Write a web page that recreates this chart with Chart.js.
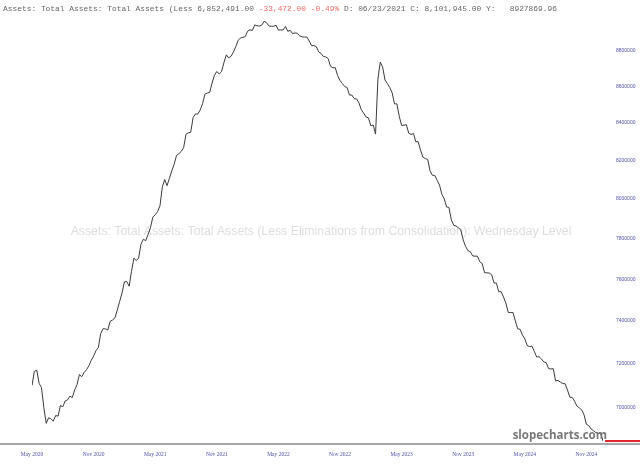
<!DOCTYPE html>
<html>
<head>
<meta charset="utf-8">
<style>
  html, body { margin: 0; padding: 0; background: #fff; }
</style>
<script src="https://cdn.jsdelivr.net/npm/chart.js@4.4.1/dist/chart.umd.min.js"></script>
</head>
<body>
<canvas id="assetsChart" width="640" height="465"></canvas>
<script>
// weekly Wednesday levels, in billions of dollars, starting 2020-05-27
const firstWednesday = "2020-05-27";
const assetsBn = [
  7100, 7165, 7170, 7110, 7090, 7000, 6930, 6955, 6950, 6940,
  6965, 6962, 7010, 7004, 7030, 7035, 7052, 7045, 7080, 7104,
  7150, 7140, 7160, 7172, 7190, 7215, 7235, 7260, 7275, 7340,
  7363, 7362, 7357, 7398, 7404, 7414, 7451, 7493, 7533, 7587,
  7589, 7566, 7638, 7703, 7691, 7704, 7772, 7797, 7790, 7821,
  7855, 7908, 7920, 7936, 7965, 8061, 8101, 8069, 8107, 8146,
  8181, 8227, 8236, 8248, 8268, 8339, 8347, 8350, 8429, 8448,
  8448, 8470, 8505, 8556, 8562, 8566, 8617, 8660, 8681, 8667,
  8680, 8730, 8774, 8757, 8766, 8789, 8820, 8856, 8869, 8873,
  8877, 8908, 8916, 8912, 8944, 8939, 8937, 8943, 8965, 8956,
  8938, 8936, 8936, 8942, 8914, 8915, 8915, 8935, 8907, 8913,
  8894, 8898, 8896, 8881, 8876, 8874, 8875, 8852, 8826, 8826,
  8820, 8791, 8782, 8764, 8763, 8753, 8710, 8702, 8702, 8658,
  8631, 8614, 8598, 8592, 8551, 8551, 8531, 8530, 8508, 8471,
  8452, 8432, 8427, 8384, 8389, 8340, 8639, 8733, 8705, 8634,
  8614, 8593, 8563, 8503, 8503, 8436, 8386, 8388, 8390, 8345,
  8338, 8343, 8299, 8299, 8254, 8218, 8210, 8206, 8146, 8123,
  8122, 8097, 8072, 8025, 8001, 7960, 7957, 7894, 7867, 7863,
  7854, 7843, 7793, 7761, 7740, 7735, 7714, 7713, 7713, 7685,
  7677, 7632, 7631, 7630, 7622, 7582, 7581, 7539, 7540, 7514,
  7485, 7440, 7439, 7440, 7400, 7362, 7360, 7333, 7315, 7284,
  7279, 7281, 7257, 7231, 7232, 7222, 7208, 7205, 7178, 7175,
  7177, 7121, 7123, 7116, 7109, 7108, 7080, 7047, 7046, 7029,
  7007, 6999, 6990, 6968, 6926, 6920, 6905, 6897, 6889, 6886,
  6886, 6852
];

const tickEvery = 26; // weeks between x labels
const xTickLabels = ["May 2020", "Nov 2020", "May 2021", "Nov 2021", "May 2022",
  "Nov 2022", "May 2023", "Nov 2023", "May 2024", "Nov 2024"];
const yTickValues = [7000000, 7200000, 7400000, 7600000, 7800000,
  8000000, 8200000, 8400000, 8600000, 8800000];

const seriesTitle = "Assets: Total Assets: Total Assets (Less Eliminations from Consolidation): Wednesday Level";
const headerLeft = "Assets: Total Assets: Total Assets (Less 6,852,491.00 ";
const headerChange = "-33,472.00 -0.49%";
const headerRight = " D: 06/23/2021 C: 8,101,945.00 Y:   8927869.96";

const weekDates = assetsBn.map((_, i) => {
  const d = new Date(firstWednesday + "T00:00:00Z");
  d.setUTCDate(d.getUTCDate() + i * 7);
  return d.toISOString().slice(0, 10);
});

const axisBlue = "#5050aa";

const decorations = {
  id: "decorations",
  beforeDatasetsDraw(chart) {
    const { ctx } = chart;
    ctx.save();
    ctx.font = '12.3px "Liberation Sans"';
    ctx.fillStyle = "#dedede";
    ctx.textAlign = "center";
    ctx.textBaseline = "middle";
    ctx.fillText(seriesTitle, 321, 232);
    ctx.restore();
  },
  afterDraw(chart) {
    const { ctx, chartArea } = chart;
    const y = chart.scales.y;
    ctx.save();

    // bottom axis line across the whole width
    ctx.strokeStyle = "#8a8a8a";
    ctx.lineWidth = 1.5;
    ctx.beginPath();
    ctx.moveTo(0, chartArea.bottom);
    ctx.lineTo(640, chartArea.bottom);
    ctx.stroke();

    // last value marker
    const lastY = y.getPixelForValue(assetsBn[assetsBn.length - 1] * 1000);
    ctx.strokeStyle = "#e3262b";
    ctx.lineWidth = 2;
    ctx.beginPath();
    ctx.moveTo(chartArea.right + 2, lastY);
    ctx.lineTo(640, lastY);
    ctx.stroke();

    // logo
    ctx.font = 'bold 11.5px "Open Sans"';
    ctx.fillStyle = "#777";
    ctx.textAlign = "right";
    ctx.textBaseline = "alphabetic";
    ctx.fillText("slopecharts.com", 607, 439);

    // header readout
    ctx.font = '7.9px "Liberation Mono"';
    ctx.textAlign = "left";
    let x = 3;
    ctx.fillStyle = "#666";
    ctx.fillText(headerLeft, x, 11);
    x += ctx.measureText(headerLeft).width;
    ctx.fillStyle = "#ee6a6a";
    ctx.fillText(headerChange, x, 11);
    x += ctx.measureText(headerChange).width;
    ctx.fillStyle = "#666";
    ctx.fillText(headerRight, x, 11);
    ctx.restore();
  }
};

new Chart(document.getElementById("assetsChart"), {
  type: "line",
  data: {
    labels: weekDates,
    datasets: [{
      label: seriesTitle,
      data: assetsBn.map((v, i) => ({ x: i, y: v * 1000 })),
      borderColor: "#3a3a3a",
      borderWidth: 1,
      pointRadius: 0,
      tension: 0,
      fill: false
    }]
  },
  options: {
    responsive: false,
    devicePixelRatio: 1,
    animation: false,
    layout: { padding: { left: 32, top: 8, right: 0, bottom: 0 } },
    plugins: {
      legend: { display: false },
      tooltip: { enabled: false }
    },
    scales: {
      x: {
        type: "linear",
        min: 0,
        max: assetsBn.length - 1,
        grid: { display: false, drawTicks: false },
        border: { display: false },
        afterBuildTicks: s => { s.ticks = xTickLabels.map((_, i) => ({ value: i * tickEvery })); },
        afterFit: s => { s.height = 21; },
        ticks: {
          autoSkip: false,
          maxRotation: 0,
          padding: 7,
          color: axisBlue,
          font: { family: "Liberation Serif", size: 5.5 },
          callback: v => xTickLabels[v / tickEvery] ?? ""
        }
      },
      y: {
        type: "logarithmic",
        position: "right",
        min: 6839000,
        max: 8995000,
        grid: { display: false, drawTicks: false },
        border: { display: false },
        afterBuildTicks: s => { s.ticks = yTickValues.map(v => ({ value: v })); },
        afterFit: s => { s.width = 37; },
        ticks: {
          padding: 13,
          color: axisBlue,
          font: { family: "Liberation Sans", size: 5 },
          callback: v => String(v)
        }
      }
    }
  },
  plugins: [decorations]
});
</script>
</body>
</html>
